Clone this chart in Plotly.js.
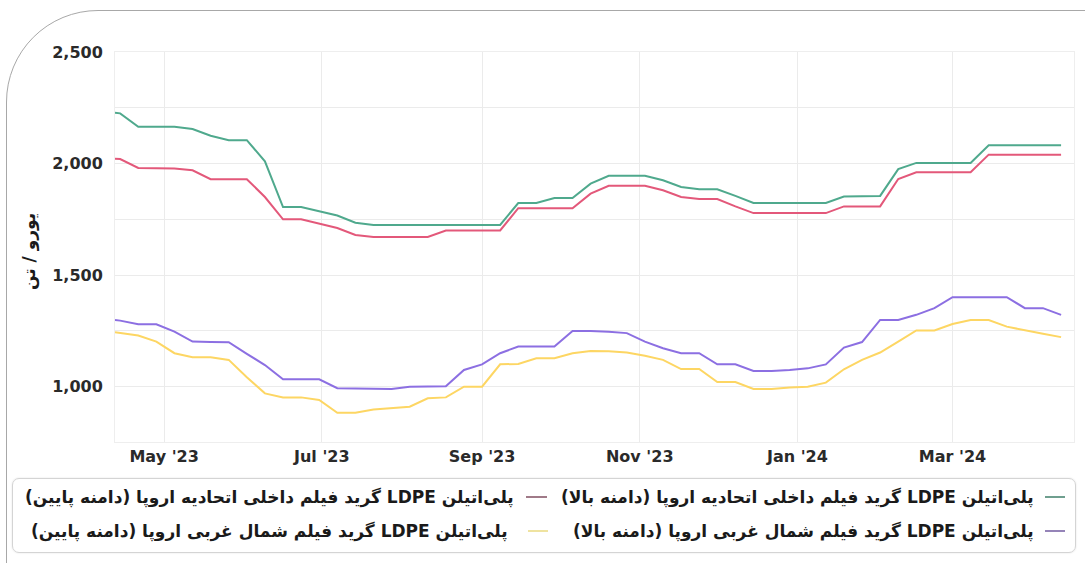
<!DOCTYPE html>
<html>
<head>
<meta charset="utf-8">
<script src="https://cdn.plot.ly/plotly-3.0.1.min.js"></script>
<style>
  html, body { margin: 0; padding: 0; background: #ffffff; overflow: hidden; }
  #frame { position: absolute; left: 6px; top: 10px; width: 1200px; height: 700px;
           border: 1px solid #a8a8a8; border-top-left-radius: 92px; }
  #legbox { position: absolute; left: 12px; top: 478px; width: 1062px; height: 73px;
            border: 1px solid #d4d4d4; border-radius: 7px; box-shadow: 0 0 2px rgba(0,0,0,0.12); }
  #chart { position: absolute; left: 0; top: 0; width: 1085px; height: 563px; }
</style>
</head>
<body>
<div id="frame"></div>
<div id="legbox"></div>
<div id="chart"></div>
<script>
// ---- data ----
const dates = [
  '2023-04-12','2023-04-14','2023-04-21','2023-04-28','2023-05-05','2023-05-12','2023-05-19','2023-05-26',
  '2023-06-02','2023-06-09','2023-06-16','2023-06-23','2023-06-30','2023-07-07','2023-07-14','2023-07-21',
  '2023-07-28','2023-08-04','2023-08-11','2023-08-18','2023-08-25','2023-09-01','2023-09-08','2023-09-15',
  '2023-09-22','2023-09-29','2023-10-06','2023-10-13','2023-10-20','2023-10-27','2023-11-03','2023-11-10',
  '2023-11-17','2023-11-24','2023-12-01','2023-12-08','2023-12-15','2023-12-22','2023-12-29','2024-01-05',
  '2024-01-12','2024-01-19','2024-01-26','2024-02-02','2024-02-09','2024-02-16','2024-02-23','2024-03-01',
  '2024-03-08','2024-03-15','2024-03-22','2024-03-29','2024-04-05','2024-04-12'
];
const euHigh = [
  2228,2225,2165,2165,2165,2155,2125,2105,2105,2010,1805,1805,1785,1767,1735,1725,
  1725,1725,1725,1725,1725,1725,1725,1823,1823,1846,1846,1910,1945,1945,1945,1925,
  1895,1885,1885,1855,1823,1823,1823,1823,1823,1852,1855,1855,1975,2003,2003,2003,
  2003,2082,2082,2082,2082,2082
];
const euLow = [
  2022,2020,1980,1980,1978,1970,1930,1930,1930,1850,1750,1750,1730,1711,1680,1671,
  1671,1671,1671,1700,1700,1700,1700,1800,1800,1800,1800,1865,1900,1900,1900,1880,
  1850,1841,1841,1808,1778,1778,1778,1778,1778,1808,1808,1808,1931,1961,1961,1961,
  1961,2040,2040,2040,2040,2040
];
const nwHigh = [
  1299,1296,1280,1280,1247,1202,1200,1199,1147,1097,1033,1033,1033,993,993,990,
  990,1000,1000,1002,1075,1100,1150,1180,1180,1180,1250,1250,1246,1240,1202,1172,
  1150,1150,1100,1100,1070,1070,1075,1082,1100,1175,1200,1299,1299,1322,1352,1401,
  1401,1401,1401,1352,1352,1322
];
const nwLow = [
  1244,1241,1229,1202,1150,1132,1132,1120,1042,970,952,952,940,883,883,898,
  903,910,948,952,1000,1000,1100,1102,1127,1127,1150,1160,1159,1153,1139,1120,
  1079,1079,1021,1021,990,990,996,1000,1018,1078,1120,1153,1202,1252,1252,1281,
  1299,1299,1269,1252,1237,1222
];
const seriesNames = [
  'پلی‌اتیلن LDPE گرید فیلم داخلی اتحادیه اروپا (دامنه بالا)',
  'پلی‌اتیلن LDPE گرید فیلم داخلی اتحادیه اروپا (دامنه پایین)',
  'پلی‌اتیلن LDPE گرید فیلم شمال غربی اروپا (دامنه بالا)',
  'پلی‌اتیلن LDPE گرید فیلم شمال غربی اروپا (دامنه پایین)'
];
const yTitle = 'یورو / تن';
const yTickVals = [1000, 1250, 1500, 1750, 2000, 2250, 2500];
const yTickText = ['1,000', '', '1,500', '', '2,000', '', '2,500'];

// ---- style ----
const lineColors = ['#4fa98d', '#e3587a', '#8c6fe2', '#fdd663'];
const swatchColors = ['#6f9f8f', '#a07a88', '#9584b8', '#efe3a0'];
const RTL = s => '\u202B' + s + '\u202C';

const L = 115, R = 1074, T = 52, B = 442;
const px = x => (x - L) / (R - L);
const py = y => (B - y) / (B - T);

const allSeries = [euHigh, euLow, nwHigh, nwLow];
const traces = allSeries.map((vals, i) => ({
  type: 'scatter', mode: 'lines', x: dates, y: vals, name: seriesNames[i],
  line: { color: lineColors[i], width: 2 }, hoverinfo: 'skip', showlegend: false
}));

// legend layout
const legPos = [
  { tx: 1036, sx0: 1045, sx1: 1065, y: 497 },
  { tx: 516,  sx0: 526,  sx1: 547,  y: 497 },
  { tx: 1036, sx0: 1045, sx1: 1065, y: 531 },
  { tx: 510,  sx0: 528,  sx1: 548,  y: 531 }
];
const annotations = seriesNames.map((n, i) => ({
  text: RTL(n), xref: 'paper', yref: 'paper', x: px(legPos[i].tx), y: py(legPos[i].y),
  xanchor: 'right', yanchor: 'middle', showarrow: false,
  font: { family: 'DejaVu Sans', size: 17, color: '#1a1a1a', weight: 'bold' }
}));
annotations.push({
  text: RTL(yTitle), xref: 'paper', yref: 'paper', x: px(30), y: py(252),
  xanchor: 'center', yanchor: 'middle', textangle: -90, showarrow: false,
  font: { family: 'DejaVu Sans', size: 17, color: '#1a1a1a', weight: 'bold' }
});
const shapes = seriesNames.map((n, i) => ({
  type: 'line', xref: 'paper', yref: 'paper',
  x0: px(legPos[i].sx0), x1: px(legPos[i].sx1), y0: py(legPos[i].y), y1: py(legPos[i].y),
  line: { color: swatchColors[i], width: 2 }
}));

const tickFont = { family: 'DejaVu Sans', size: 16, color: '#2a2a2a', weight: 'bold' };

const layout = {
  width: 1085, height: 563,
  margin: { l: L, r: 1085 - R, t: T, b: 563 - B },
  paper_bgcolor: 'rgba(0,0,0,0)', plot_bgcolor: 'rgba(0,0,0,0)',
  showlegend: false, hovermode: false,
  xaxis: {
    type: 'date', range: ['2023-04-12', '2024-04-17'],
    tick0: '2023-05-01', dtick: 'M2', tickformat: "%b '%y",
    showgrid: true, gridcolor: '#ebebeb', gridwidth: 1,
    showline: true, mirror: true, linecolor: '#eeeeee', linewidth: 1,
    ticks: '', ticklabelstandoff: 0, tickfont: tickFont, zeroline: false
  },
  yaxis: {
    range: [752, 2500], tickmode: 'array', tickvals: yTickVals, ticktext: yTickText,
    showgrid: true, gridcolor: '#ebebeb', gridwidth: 1,
    showline: true, mirror: true, linecolor: '#eeeeee', linewidth: 1,
    ticks: '', ticklabelstandoff: 8, tickfont: tickFont, zeroline: false
  },
  annotations: annotations,
  shapes: shapes
};

Plotly.newPlot('chart', traces, layout, { displayModeBar: false, staticPlot: true });
</script>
</body>
</html>
